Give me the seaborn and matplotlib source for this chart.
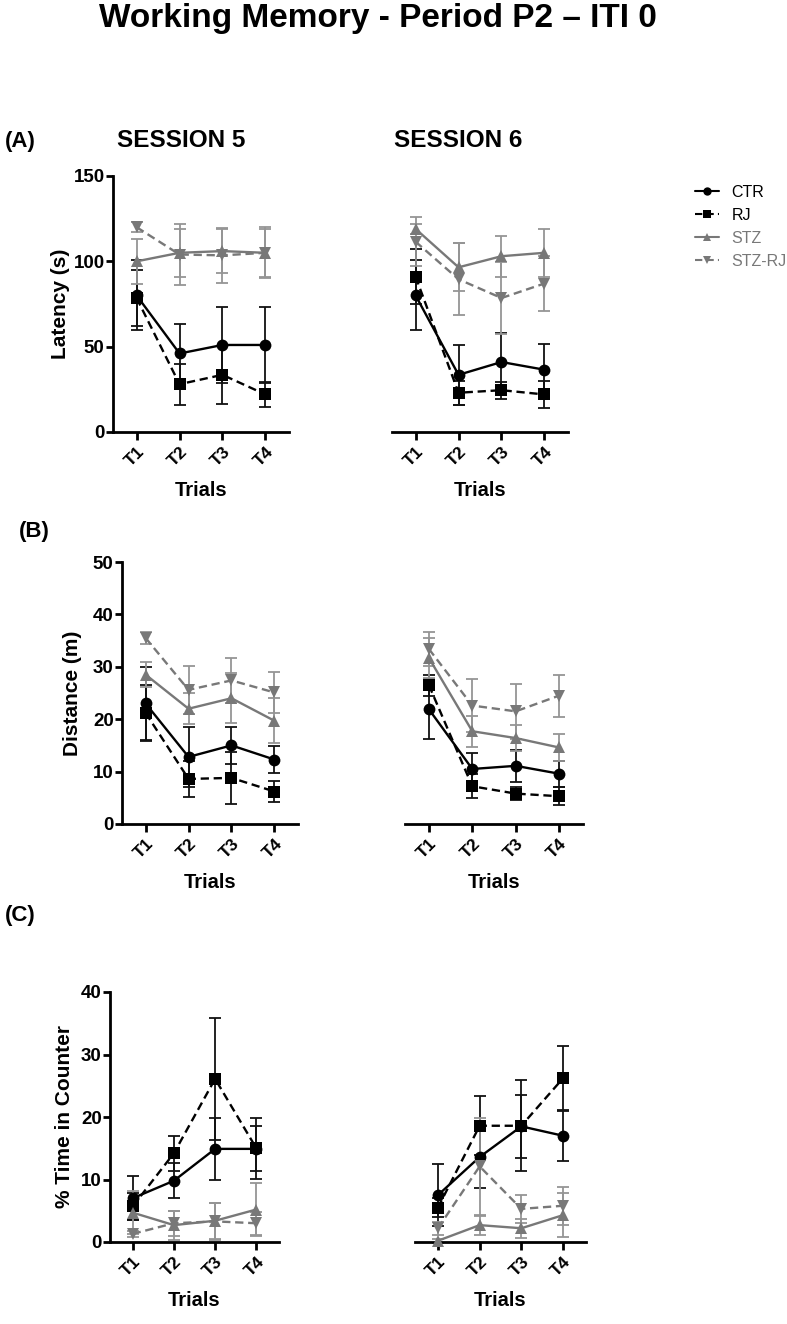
import numpy as np
import pandas as pd
import matplotlib
matplotlib.use("Agg")
import matplotlib.pyplot as plt
import seaborn as sns
from matplotlib.lines import Line2D

# ---------------- data ----------------
trials = ["T1", "T2", "T3", "T4"]
groups = ["CTR", "RJ", "STZ", "STZ-RJ"]

# Latency (s) - rows follow `groups`
lat_s5_mean = [[80, 46, 51, 51], [78.5, 28, 33.5, 22], [100, 105, 106, 105], [120, 104, 103.5, 105]]
lat_s5_sem = [[20.5, 17, 22, 22], [16.5, 12, 17, 7.5], [13, 14, 13, 14], [3, 18, 16, 15]]
lat_s6_mean = [[80, 33.5, 41, 36.5], [91, 23, 24.5, 22], [119, 96.5, 103, 105], [111.5, 89.5, 78.5, 87]]
lat_s6_sem = [[20.5, 17.5, 17, 15], [16, 7, 5, 8], [3, 14, 12, 14], [14.5, 21, 21, 16]]

# Distance (m)
dist_s5_mean = [[23, 12.8, 15, 12.3], [21.2, 8.6, 8.8, 6.2], [28.5, 22, 24, 19.7], [35.5, 25.6, 27.4, 25.1]]
dist_s5_sem = [[7, 5.7, 3.5, 2.5], [5.3, 3.5, 5, 2], [2.4, 3, 4.8, 4.3], [1.2, 4.6, 4.3, 3.9]]
dist_s6_mean = [[21.9, 10.5, 11.1, 9.6], [26.5, 7.2, 5.8, 5.3], [31.7, 17.7, 16.4, 14.6], [33.4, 22.6, 21.5, 24.5]]
dist_s6_sem = [[5.7, 3, 3, 2.5], [2, 2.3, 1.3, 1.7], [3.8, 3, 2.5, 2.5], [3.2, 5, 5.2, 4]]

# % Time in Counter
cnt_s5_mean = [[7, 9.8, 14.9, 14.9], [5.7, 14.2, 26.1, 15], [4.7, 2.7, 3.4, 5.2], [1.3, 3.0, 3.3, 3.0]]
cnt_s5_sem = [[3.5, 2.8, 5, 3.6], [2.2, 2.8, 9.7, 4.9], [3.4, 2.3, 2.9, 4.2], [0.5, 2, 2.9, 1.8]]
cnt_s6_mean = [[7.5, 13.6, 18.5, 17], [5.5, 18.6, 18.6, 26.2], [0.2, 2.7, 2.2, 4.3], [2.2, 12.1, 5.3, 5.8]]
cnt_s6_sem = [[5, 4.9, 5.1, 4], [1.5, 4.7, 7.3, 5.1], [0.3, 1.5, 1.5, 3.5], [1, 7.7, 2.3, 3]]

# ---------------- style ----------------
sns.set_theme(style="white")
plt.rcParams["font.family"] = ["Liberation Sans", "DejaVu Sans"]
plt.rcParams["text.color"] = "black"
plt.rcParams["axes.labelcolor"] = "black"
plt.rcParams["xtick.color"] = "black"
plt.rcParams["ytick.color"] = "black"

GRAY = "#787878"
GRAY_ERR = "#959595"
palette = {"CTR": "black", "RJ": "black", "STZ": GRAY, "STZ-RJ": GRAY}
err_col = {"CTR": "#111111", "RJ": "#111111", "STZ": GRAY_ERR, "STZ-RJ": GRAY_ERR}
markers = {"CTR": "o", "RJ": "s", "STZ": "^", "STZ-RJ": "v"}
dashes = {"CTR": "", "RJ": (3.5, 2), "STZ": "", "STZ-RJ": (3.5, 2)}

W, H = 787, 1324
fig = plt.figure(figsize=(W / 100, H / 100), dpi=100)


def px_axes(left, top, w, h):
    return fig.add_axes([left / W, 1 - (top + h) / H, w / W, h / H])


def draw_panel(ax, means, sems, ylim, yticks, ylabel, show_y, lab_x_px):
    rows = []
    for g, m in zip(groups, means):
        for i, v in enumerate(m):
            rows.append({"x": i, "value": v, "group": g})
    df = pd.DataFrame(rows)
    for g, m, s in zip(groups, means, sems):
        ax.errorbar(range(4), m, yerr=s, fmt="none", ecolor=err_col[g],
                    elinewidth=1.3, capsize=4.5, capthick=1.3, zorder=2, clip_on=False)
    sns.lineplot(data=df, x="x", y="value", hue="group", style="group",
                 hue_order=groups, style_order=groups, palette=palette,
                 markers=markers, dashes=dashes, markersize=8.5, linewidth=1.7,
                 markeredgewidth=0, errorbar=None, legend=False, ax=ax,
                 zorder=3, clip_on=False)
    ax.set_xlim(-0.55, 3.55)
    ax.set_ylim(*ylim)
    ax.set_xticks(range(4))
    ax.set_xticklabels(trials, rotation=45, ha="right", rotation_mode="anchor",
                       fontsize=12.5, fontweight="bold")
    ax.set_xlabel("Trials", fontsize=14.5, fontweight="bold")
    hpx = ax.get_position().height * H
    ax.xaxis.set_label_coords(0.5, -49 / hpx)
    for sp in ["top", "right"]:
        ax.spines[sp].set_visible(False)
    ax.spines["bottom"].set_linewidth(2)
    ax.spines["bottom"].set_color("black")
    ax.tick_params(axis="x", direction="out", length=6, width=2, color="black",
                   pad=3, bottom=True)
    if show_y:
        ax.spines["left"].set_linewidth(2)
        ax.spines["left"].set_color("black")
        ax.set_yticks(yticks)
        ax.set_yticklabels([str(t) for t in yticks], fontsize=13.5, fontweight="bold")
        ax.tick_params(axis="y", direction="out", length=5, width=2, color="black",
                       pad=1, left=True)
        ax.set_ylabel(ylabel, fontsize=15, fontweight="bold")
        wpx = ax.get_position().width * W
        lpx = ax.get_position().x0 * W
        ax.yaxis.set_label_coords((lab_x_px - lpx) / wpx, 0.5)
    else:
        ax.spines["left"].set_visible(False)
        ax.set_yticks([])
        ax.set_ylabel("")
    ax.set_facecolor("none")


# Panel A
axA1 = px_axes(113, 176, 176, 256)
axA2 = px_axes(392, 176, 176, 256)
draw_panel(axA1, lat_s5_mean, lat_s5_sem, (0, 150), [0, 50, 100, 150], "Latency (s)", True, 70)
draw_panel(axA2, lat_s6_mean, lat_s6_sem, (0, 150), [0, 50, 100, 150], "", False, 0)

# Panel B
axB1 = px_axes(122, 562, 176, 262)
axB2 = px_axes(405, 562, 178, 262)
draw_panel(axB1, dist_s5_mean, dist_s5_sem, (0, 50), [0, 10, 20, 30, 40, 50], "Distance (m)", True, 82)
draw_panel(axB2, dist_s6_mean, dist_s6_sem, (0, 50), [0, 10, 20, 30, 40, 50], "", False, 0)

# Panel C
axC1 = px_axes(110, 992, 169, 250)
axC2 = px_axes(415, 992, 171, 250)
draw_panel(axC1, cnt_s5_mean, cnt_s5_sem, (0, 40), [0, 10, 20, 30, 40], "% Time in Counter", True, 74)
draw_panel(axC2, cnt_s6_mean, cnt_s6_sem, (0, 40), [0, 10, 20, 30, 40], "", False, 0)

# Texts
def ftext(xpx, ypx, s, **kw):
    fig.text(xpx / W, 1 - ypx / H, s, **kw)

ftext(378, 27, "Working Memory - Period P2 \u2013 ITI 0", fontsize=24, fontweight="bold",
      ha="center", va="baseline")
ftext(5, 147, "(A)", fontsize=16, fontweight="bold", va="baseline")
ftext(117, 147, "SESSION 5", fontsize=17.5, fontweight="bold", va="baseline")
ftext(394, 147, "SESSION 6", fontsize=17.5, fontweight="bold", va="baseline")
ftext(19, 537, "(B)", fontsize=16, fontweight="bold", va="baseline")
ftext(5, 921, "(C)", fontsize=16, fontweight="bold", va="baseline")

# Legend
handles = []
for g in groups:
    handles.append(Line2D([0], [0], color=palette[g], marker=markers[g],
                          linestyle="--" if dashes[g] else "-",
                          dashes=dashes[g] if dashes[g] else (None, None),
                          markersize=6, linewidth=1.5, markeredgewidth=0))
leg = fig.legend(handles, groups, loc="upper left",
                 bbox_to_anchor=(695 / W, 1 - 185 / H), frameon=False,
                 fontsize=11.5, handlelength=1.5, handletextpad=0.8,
                 labelspacing=0.5, borderpad=0, borderaxespad=0)
for t, g in zip(leg.get_texts(), groups):
    t.set_color("black" if g in ("CTR", "RJ") else GRAY)

fig.savefig("out.png", dpi=100, facecolor="white")
